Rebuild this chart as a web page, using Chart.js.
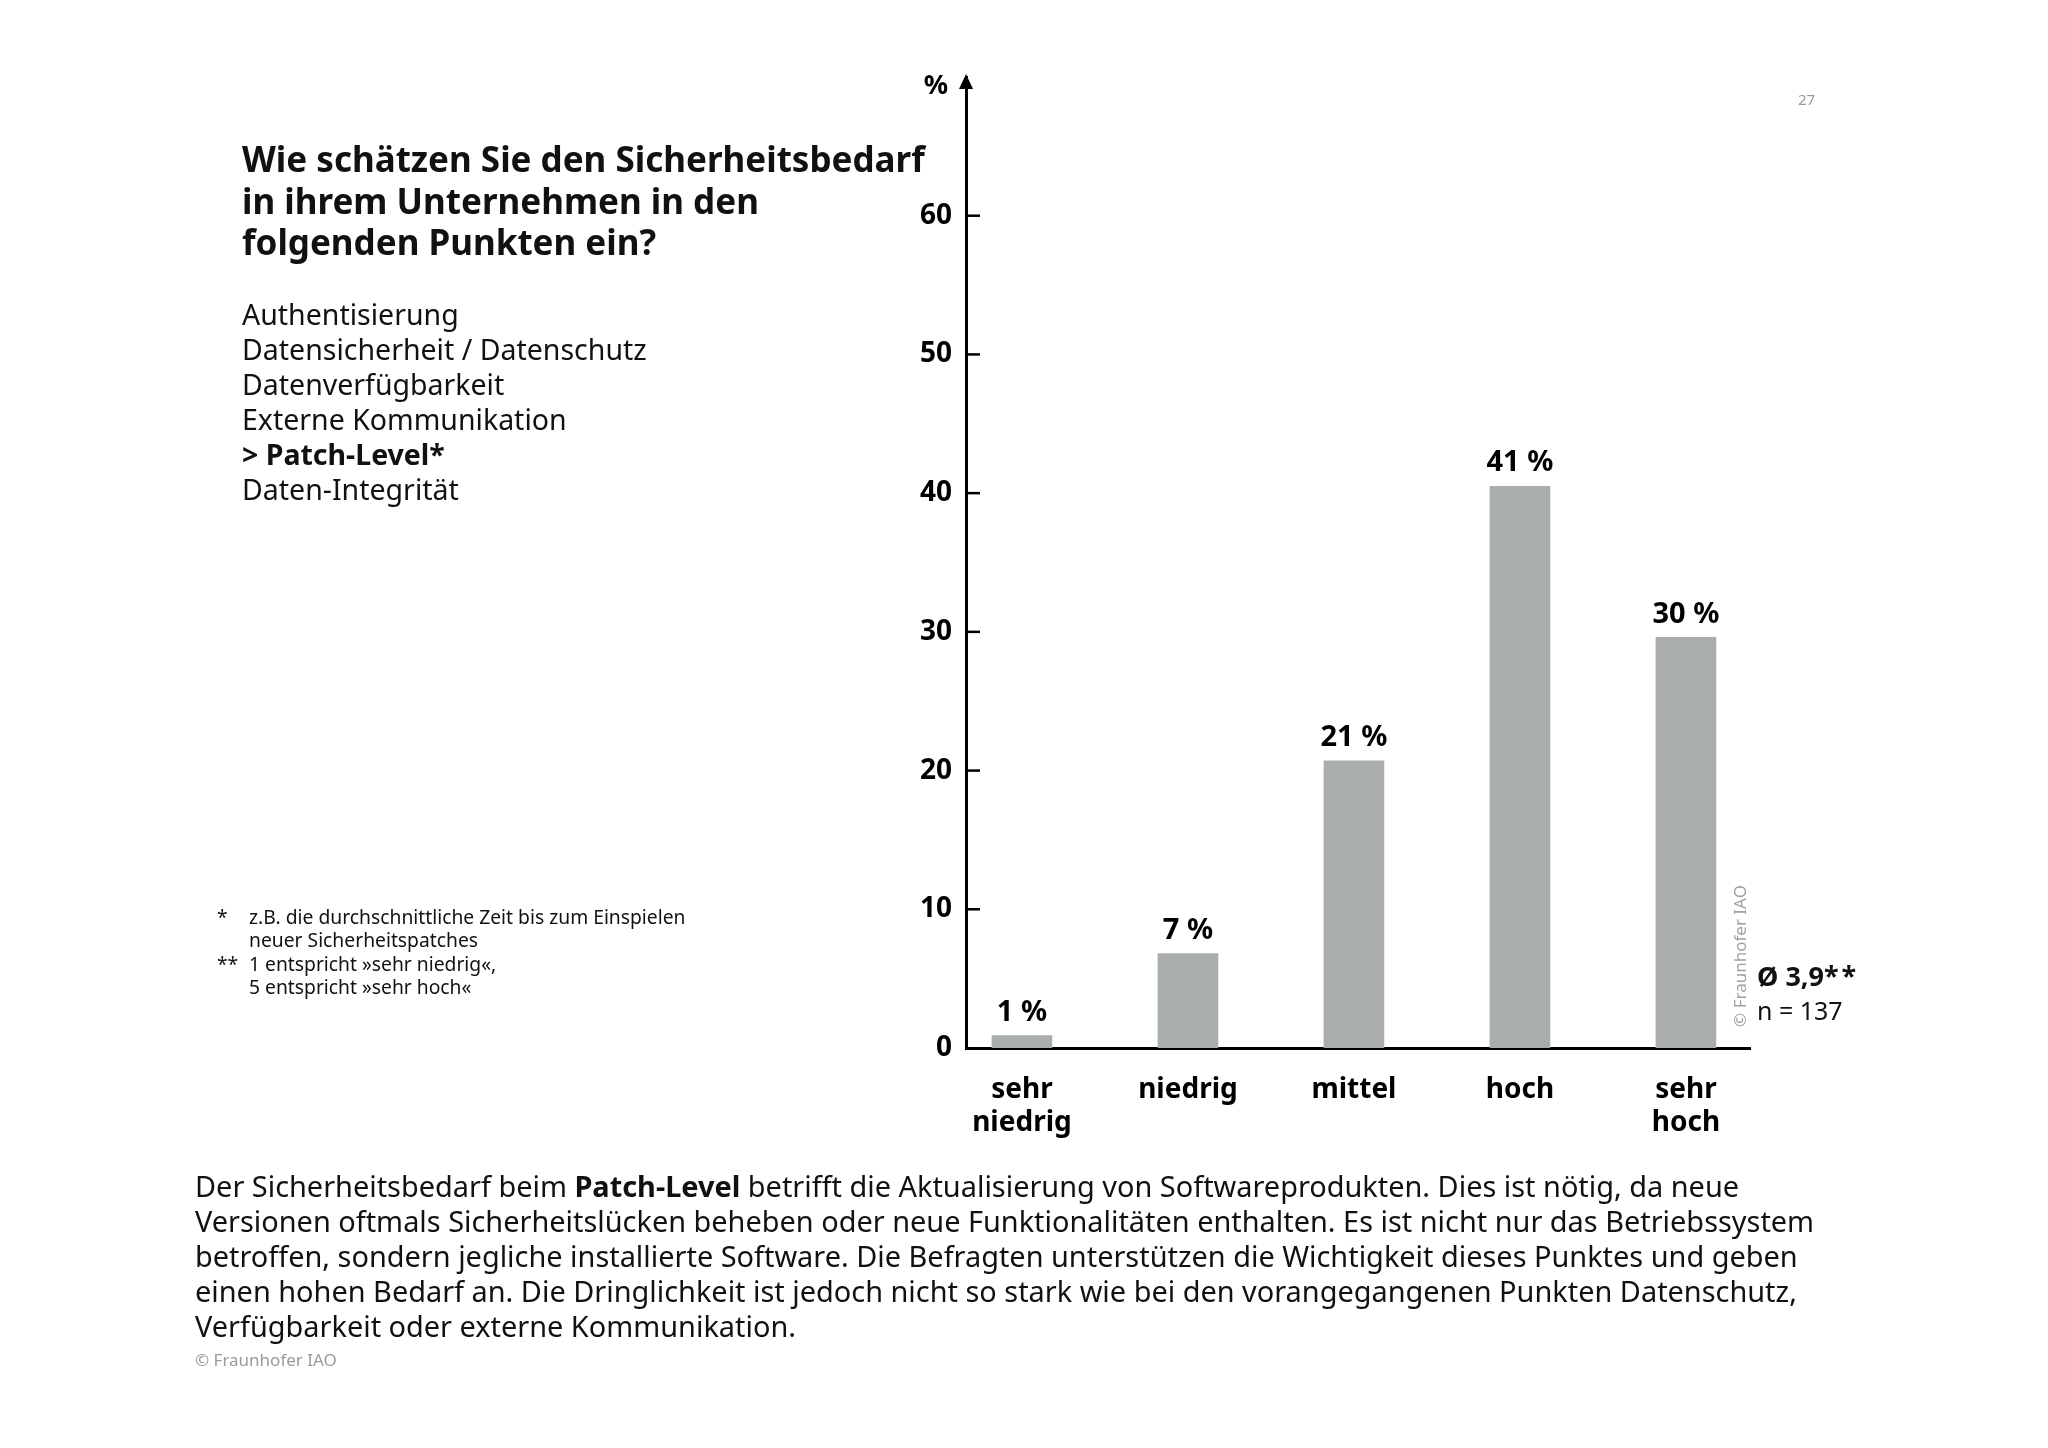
<!DOCTYPE html>
<html>
<head>
<meta charset="utf-8">
<script src="https://cdn.jsdelivr.net/npm/chart.js@4"></script>
<style>
  html, body { margin: 0; padding: 0; background: #fff; }
  body { width: 2048px; height: 1448px; position: relative; overflow: hidden;
         font-family: 'Noto Sans', sans-serif; color: #111; }
  #chart { position: absolute; left: 0; top: 0; }
  .txt { position: absolute; white-space: nowrap; }
  .title { left: 242px; top: 138px; font-size: 35px; line-height: 41.5px; font-weight: bold; }
  .list { left: 242px; top: 297px; font-size: 28.5px; line-height: 35px; }
  .notes { left: 217px; top: 905px; font-size: 19.3px; line-height: 23.3px; }
  .notes span { display: inline-block; width: 32px; }
  .stat { left: 1757px; top: 959px; font-size: 25px; line-height: 34px; }
  .stat b { font-size: 27px; }
  .stat i { font-style: normal; letter-spacing: 3px; }
  .body { left: 195px; top: 1168px; font-size: 28.9px; line-height: 35px; }
  .copy { left: 195px; top: 1348px; font-size: 17px; color: #9a9a9a; }
  .page { left: 1798px; top: 89px; font-size: 15px; color: #9a9a9a; }
  .vcopy { left: 1739px; top: 956px; font-size: 17px; color: #a0a0a0;
           transform: translate(-50%, -50%) rotate(-90deg); }
</style>
</head>
<body>
<canvas id="chart" width="2048" height="1448"></canvas>

<div class="txt title">Wie schätzen Sie den Sicherheitsbedarf<br>in ihrem Unternehmen in den<br>folgenden Punkten ein?</div>
<div class="txt list">Authentisierung<br>Datensicherheit / Datenschutz<br>Datenverfügbarkeit<br>Externe Kommunikation<br><b>&gt; Patch-Level*</b><br>Daten-Integrität</div>
<div class="txt notes"><span>*</span>z.B. die durchschnittliche Zeit bis zum Einspielen<br><span></span>neuer Sicherheitspatches<br><span>**</span>1 entspricht »sehr niedrig«,<br><span></span>5 entspricht »sehr hoch«</div>
<div class="txt stat"><b>Ø 3,9<i>**</i></b><br>n = 137</div>
<div class="txt vcopy">© Fraunhofer IAO</div>
<div class="txt page">27</div>
<div class="txt body">Der Sicherheitsbedarf beim <b>Patch-Level</b> betrifft die Aktualisierung von Softwareprodukten. Dies ist nötig, da neue<br>Versionen oftmals Sicherheitslücken beheben oder neue Funktionalitäten enthalten. Es ist nicht nur das Betriebssystem<br>betroffen, sondern jegliche installierte Software. Die Befragten unterstützen die Wichtigkeit dieses Punktes und geben<br>einen hohen Bedarf an. Die Dringlichkeit ist jedoch nicht so stark wie bei den vorangegangenen Punkten Datenschutz,<br>Verfügbarkeit oder externe Kommunikation.</div>
<div class="txt copy">© Fraunhofer IAO</div>

<script>
// answer categories (1 = sehr niedrig ... 5 = sehr hoch)
const categories = [['sehr', 'niedrig'], 'niedrig', 'mittel', 'hoch', ['sehr', 'hoch']];
// share of answers in %
const shares = [0.9, 6.8, 20.7, 40.5, 29.6];
// labels printed above the bars
const shareLabels = ['1 %', '7 %', '21 %', '41 %', '30 %'];
const yTicks = [0, 10, 20, 30, 40, 50, 60];

const FONT = "'Noto Sans', sans-serif";
const barGrey = '#a9aeac';

// axis arrow, inward tick marks, % unit and value labels
const decorations = {
    id: 'decorations',
    afterDraw(chart) {
        const ctx = chart.ctx;
        const area = chart.chartArea;
        const y = chart.scales.y;
        ctx.save();
        ctx.strokeStyle = '#000';
        ctx.lineWidth = 2.5;
        yTicks.forEach(v => {
            if (v === 0) return;
            const py = y.getPixelForValue(v);
            ctx.beginPath();
            ctx.moveTo(area.left, py);
            ctx.lineTo(area.left + 14, py);
            ctx.stroke();
        });
        // arrow head
        ctx.fillStyle = '#000';
        ctx.beginPath();
        ctx.moveTo(area.left, y.top - 3);
        ctx.lineTo(area.left - 7, y.top + 12);
        ctx.lineTo(area.left + 7, y.top + 12);
        ctx.closePath();
        ctx.fill();
        ctx.textAlign = 'center';
        ctx.textBaseline = 'middle';
        // unit
        ctx.font = 'bold 27px ' + FONT;
        ctx.fillText('%', area.left - 30, y.top + 9);
        // value labels
        ctx.font = 'bold 29px ' + FONT;
        const meta = chart.getDatasetMeta(0);
        meta.data.forEach((bar, i) => {
            ctx.fillText(shareLabels[i], bar.x, bar.y - 23);
        });
        ctx.restore();
    },
};

new Chart(document.getElementById('chart'), {
    type: 'bar',
    data: {
        datasets: [{
            data: shares.map((v, i) => ({ x: i + 1, y: v })),
            backgroundColor: barGrey,
            borderWidth: 0,
            barThickness: 60,
        }],
    },
    options: {
        responsive: false,
        devicePixelRatio: 1,
        animation: false,
        layout: { padding: { left: 906, right: 298, top: 77, bottom: 300 } },
        plugins: { legend: { display: false }, tooltip: { enabled: false } },
        scales: {
            x: {
                type: 'linear',
                offset: false,
                min: 0.663,
                max: 5.386,
                afterBuildTicks(scale) {
                    scale.ticks = categories.map((c, i) => ({ value: i + 1 }));
                },
                afterFit(scale) { scale.height = 100; },
                grid: { display: false, drawTicks: false },
                border: { display: true, color: '#000', width: 3 },
                ticks: {
                    padding: 26,
                    color: '#000',
                    font: { family: FONT, size: 28, weight: 'bold', lineHeight: 1.17 },
                    callback(value, index) { return categories[index]; },
                },
            },
            y: {
                min: 0,
                max: 70,
                afterBuildTicks(scale) {
                    scale.ticks = yTicks.map(v => ({ value: v }));
                },
                afterFit(scale) { scale.width = 60; },
                grid: { display: false, drawTicks: false },
                border: { display: true, color: '#000', width: 3 },
                ticks: {
                    padding: 14,
                    color: '#000',
                    font: { family: FONT, size: 28, weight: 'bold' },
                },
            },
        },
    },
    plugins: [decorations],
});
</script>
</body>
</html>
